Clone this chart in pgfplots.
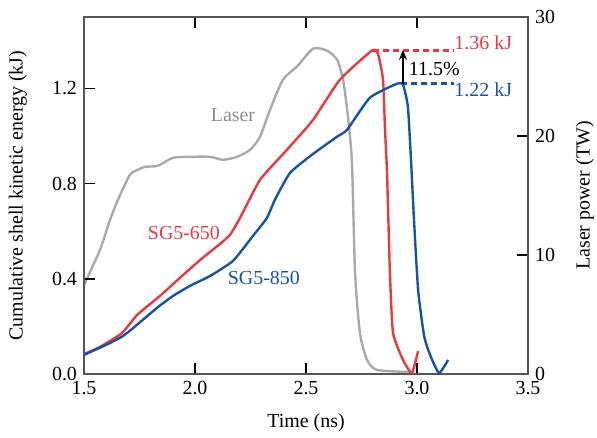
\documentclass[border=0pt]{standalone}
\usepackage{fontspec}
\setmainfont{Liberation Serif}
\usepackage{pgfplots}
\pgfplotsset{compat=1.18}
\usetikzlibrary{arrows.meta}
\definecolor{cred}{RGB}{230,57,64}
\definecolor{cblue}{RGB}{22,83,166}
\definecolor{cgray}{RGB}{170,170,172}
\definecolor{ltext}{RGB}{140,140,140}
\definecolor{framegray}{RGB}{85,85,85}
\pgfplotsset{common/.style={
  scale only axis, width=222bp, height=178.5bp,
  xmin=1.5, xmax=3.5,
  tick align=inside, major tick length=5.5bp,
  every tick/.style={black, line width=0.9pt},
  axis line style={framegray, line width=0.9pt},
  /pgf/number format/assume math mode=true,
  tick label style={font=\fontsize{10}{12}\selectfont},
  label style={font=\fontsize{10}{12}\selectfont},
}}
\begin{document}
\begin{tikzpicture}
\begin{axis}[common,
  ymin=0, ymax=30,
  ytick={0,10,20,30}, ytick pos=right, yticklabel pos=right,
  xtick=\empty,
  ylabel={Laser power (TW)},
  ylabel style={at={(axis description cs:1.128,0.5)}, anchor=center, rotate=0},
]
\addplot[cgray, line width=1.2pt, smooth, tension=0.4] coordinates {
(1.500,7.49) (1.572,10.43) (1.617,12.95) (1.653,14.64) (1.707,16.74)
(1.743,17.16) (1.775,17.41) (1.833,17.50) (1.901,18.17) (1.977,18.25)
(2.068,18.25) (2.126,18.00) (2.189,18.25) (2.248,18.84) (2.293,19.94)
(2.338,22.21) (2.396,24.73) (2.459,25.83) (2.532,27.34) (2.595,27.17)
(2.640,26.41) (2.667,24.73) (2.689,21.62) (2.707,17.75) (2.721,8.50)
(2.743,3.45) (2.775,1.18) (2.820,0.34) (2.968,0.17)
};
\end{axis}
\begin{axis}[common,
  ymin=0, ymax=1.5,
  ytick={0,0.4,0.8,1.2}, ytick pos=left,
  xtick={1.5,2.0,2.5,3.0,3.5}, xtick pos=both, xticklabel pos=lower,
  xticklabel style={/pgf/number format/.cd, fixed, fixed zerofill, precision=1},
  yticklabel style={/pgf/number format/.cd, fixed, fixed zerofill, precision=1},
  xlabel={Time (ns)},
  xlabel style={at={(axis description cs:0.5,-0.137)}, anchor=center},
  ylabel={Cumulative shell kinetic energy (kJ)},
  ylabel style={at={(axis description cs:-0.149,0.5)}, anchor=center},
]
\addplot[cred, line width=1.2pt, smooth, tension=0.3] coordinates {
(1.500,0.084) (1.572,0.114) (1.671,0.172) (1.739,0.248) (1.842,0.328)
(1.932,0.404) (2.023,0.479) (2.113,0.547) (2.158,0.585) (2.203,0.656)
(2.293,0.816) (2.414,0.942) (2.532,1.068) (2.653,1.237) (2.797,1.359)
(2.824,1.346) (2.847,1.237) (2.856,1.026) (2.865,0.845) (2.878,0.425)
(2.892,0.172) (2.937,0.059) (2.977,0.004) (3.005,0.097)
};
\addplot[cblue, line width=1.2pt, smooth, tension=0.3] coordinates {
(1.500,0.080) (1.617,0.130) (1.676,0.160) (1.721,0.193) (1.829,0.278)
(1.901,0.328) (1.977,0.370) (2.068,0.412) (2.171,0.475) (2.261,0.580)
(2.324,0.656) (2.360,0.732) (2.428,0.845) (2.532,0.925) (2.640,0.997)
(2.685,1.026) (2.788,1.161) (2.910,1.220) (2.937,1.216) (2.959,1.123)
(2.973,0.900) (2.986,0.656) (3.005,0.353) (3.032,0.160) (3.059,0.080)
(3.099,0.004) (3.140,0.059)
};
\addplot[cred, line width=1.2pt, dash pattern=on 3bp off 2bp] coordinates {(2.80,1.36) (3.165,1.36)};
\addplot[cblue, line width=1.2pt, dash pattern=on 3bp off 2bp] coordinates {(2.93,1.22) (3.165,1.22)};
\addplot[black, line width=0.9pt, -{Stealth[length=5bp,width=4bp]}] coordinates {(2.937,1.22) (2.937,1.362)};
\node[ltext, anchor=center] at (axis cs:2.171,1.089) {Laser};
\node[cred, anchor=center] at (axis cs:1.95,0.593) {SG5-650};
\node[cblue, anchor=center] at (axis cs:2.31,0.404) {SG5-850};
\node[cred, anchor=west, inner sep=0pt] at (axis cs:3.167,1.39) {1.36 kJ};
\node[cblue, anchor=west, inner sep=0pt] at (axis cs:3.167,1.195) {1.22 kJ};
\node[black, anchor=west, inner sep=0pt] at (axis cs:2.962,1.283) {11.5\%};
\coordinate (bl) at (rel axis cs:0,0);
\coordinate (tr) at (rel axis cs:1,1);
\end{axis}
\pgfresetboundingbox
\path ([shift={(-42bp,-32bp)}]bl) rectangle ([shift={(34.5bp,8.5bp)}]tr);
\end{tikzpicture}
\end{document}
